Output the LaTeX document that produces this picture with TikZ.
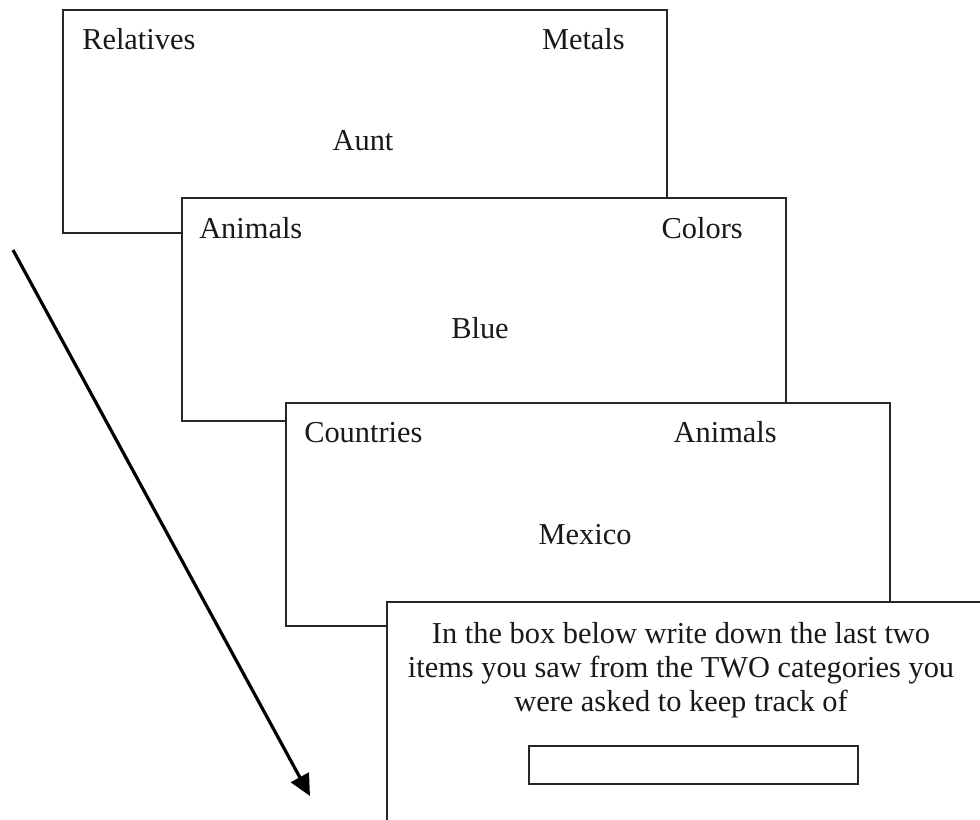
\documentclass[tikz,border=0pt]{standalone}
\usepackage{fontspec}
\setmainfont{Liberation Serif}
\usetikzlibrary{arrows.meta}
\begin{document}
\begin{tikzpicture}[x=0.75pt,y=-0.75pt,
  card/.style={draw=black!85,line width=1.5pt,fill=white,anchor=north west,
    minimum width=453pt,minimum height=167.5pt,inner sep=0pt},
  lbl/.style={font=\fontsize{22.8}{25.5}\selectfont,inner sep=0pt,text=black!90},
  answer/.style={draw=black!85,line width=1.5pt,anchor=north west,
    minimum width=246.75pt,minimum height=28.5pt,inner sep=0pt},
  flow/.style={draw=black,line width=2.4pt,-{Triangle[length=16pt,width=15pt]}}]
\clip (0,0) rectangle (980,819);
\fill[white] (0,0) rectangle (980,819);
% cards
\node[card] (c1) at (62,9) {};
\node[lbl,anchor=base west] (r1) at (82,49) {Relatives};
\node[lbl,anchor=base east] (m1) at (625,49) {Metals};
\node[lbl,anchor=base] (w1) at (363,150) {Aunt};
\node[card] (c2) at (181,197) {};
\node[lbl,anchor=base west] (r2) at (199,238) {Animals};
\node[lbl,anchor=base east] (m2) at (743,238) {Colors};
\node[lbl,anchor=base] (w2) at (480,338) {Blue};
\node[card] (c3) at (285,402) {};
\node[lbl,anchor=base west] (r3) at (304,442) {Countries};
\node[lbl,anchor=base east] (m3) at (777,442) {Animals};
\node[lbl,anchor=base] (w3) at (585,544) {Mexico};
\node[card] (c4) at (386,601) {};
\node[lbl,anchor=base] (t1) at (681,643) {In the box below write down the last two};
\node[lbl,anchor=base] (t2) at (681,677) {items you saw from the TWO categories you};
\node[lbl,anchor=base] (t3) at (681,711) {were asked to keep track of};
\node[answer] (ans) at (528,745) {};
% arrow
\coordinate (s) at (13,250);
\coordinate (e) at (310,796);
\draw[flow] (s) -- (e);
\end{tikzpicture}
\end{document}
